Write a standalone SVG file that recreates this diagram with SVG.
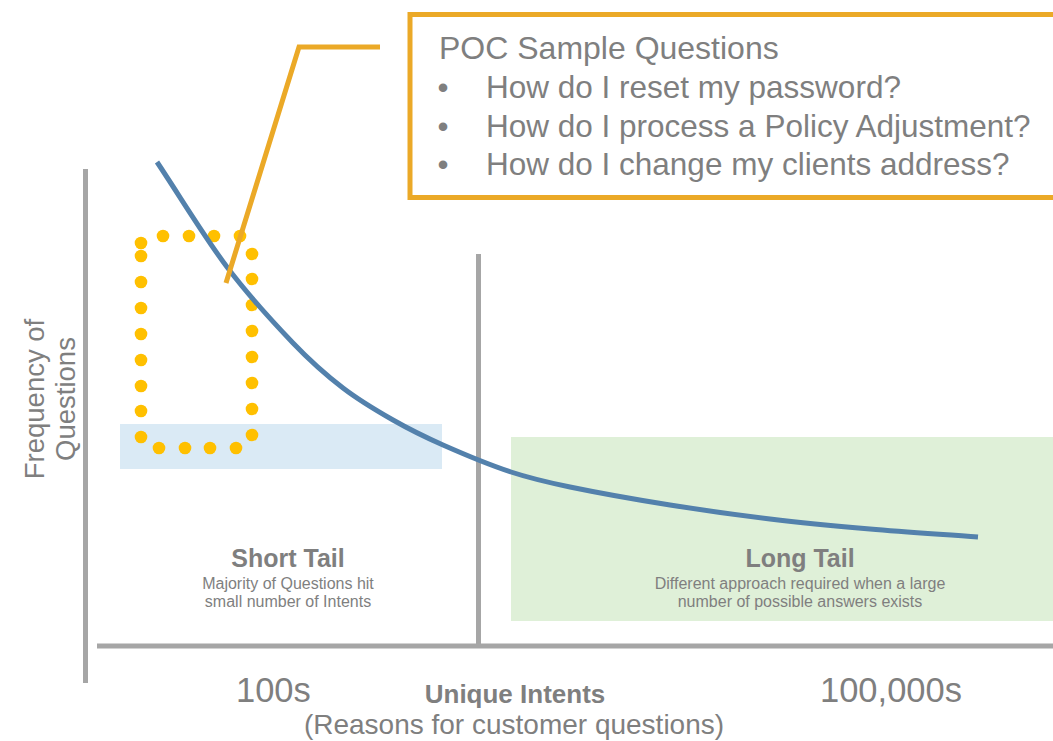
<svg xmlns="http://www.w3.org/2000/svg" width="1053" height="741" viewBox="0 0 1053 741">
  <style>
    text { font-family: "Liberation Sans", Arial, sans-serif; fill: #7F7F7F; }
    .axis { stroke: #A6A6A6; stroke-width: 5; fill: none; }
    .dot { fill: #FFC000; }
    .orange { stroke: #EBA927; stroke-width: 5; fill: none; }
    .head { font-weight: bold; font-size: 25px; text-anchor: middle; }
    .note { font-size: 16px; text-anchor: middle; }
    .tick { font-size: 34.5px; }
    .q { font-size: 31.5px; }
  </style>
  <defs>
    <circle id="d" r="6.3" class="dot"/>
  </defs>
  <rect width="1053" height="741" fill="#FFFFFF"/>

  <!-- shaded regions -->
  <g id="short-band">
    <rect x="120" y="424" width="322" height="45" fill="#DAEAF5"/>
  </g>
  <g id="long-band">
    <rect x="511" y="437" width="542" height="184" fill="#DFF0D8"/>
  </g>

  <!-- axes and divider -->
  <g id="axes">
    <line class="axis" x1="85.5" y1="169" x2="85.5" y2="683"/>
    <line class="axis" x1="97" y1="646" x2="1053" y2="646"/>
    <line class="axis" x1="478.5" y1="254" x2="478.5" y2="646"/>
  </g>

  <!-- dotted selection around the head of the curve -->
  <g id="selection">
    <use href="#d" x="141" y="243"/><use href="#d" x="141" y="256"/>
    <use href="#d" x="141" y="282"/><use href="#d" x="141" y="308"/>
    <use href="#d" x="141" y="334"/><use href="#d" x="141" y="360"/>
    <use href="#d" x="141" y="386"/><use href="#d" x="141" y="411"/>
    <use href="#d" x="141" y="437"/>
    <use href="#d" x="163" y="236"/><use href="#d" x="189" y="236"/>
    <use href="#d" x="214" y="236"/><use href="#d" x="240" y="236"/>
    <use href="#d" x="252" y="254"/><use href="#d" x="252" y="279"/>
    <use href="#d" x="252" y="305"/><use href="#d" x="252" y="331"/>
    <use href="#d" x="252" y="357"/><use href="#d" x="252" y="383"/>
    <use href="#d" x="252" y="409"/><use href="#d" x="252" y="435"/>
    <use href="#d" x="159" y="448"/><use href="#d" x="185" y="448"/>
    <use href="#d" x="210" y="448"/><use href="#d" x="236" y="448"/>
  </g>

  <!-- frequency curve -->
  <g id="curve">
    <path d="M157,162 C180.3,197 204.3,236.8 227,267 C249.7,297.2 273.7,322.8 293,343 C312.3,363.2 326.3,375.2 343,388 C359.7,400.8 376.3,410.5 393,420 C409.7,429.5 423.3,436.3 443,445 C462.7,453.7 489.8,465 511,472 C532.2,479 543.5,481.5 570,487 C596.5,492.5 636.7,499.7 670,505 C703.3,510.3 736.7,515 770,519 C803.3,523 835.3,526 870,529 C904.7,532 942,534.3 978,537" fill="none" stroke="#5381AC" stroke-width="5"/>
  </g>

  <!-- callout leader -->
  <g id="connectors">
    <polyline class="orange" points="380,47 299,47 226,283"/>
  </g>

  <!-- callout box -->
  <g id="callout">
    <rect class="orange" x="410" y="14.5" width="700" height="183"/>
    <text x="439" y="59" font-size="32">POC Sample Questions</text>
    <text class="q" x="443" y="98" text-anchor="middle">•</text>
    <text class="q" x="486" y="98">How do I reset my password?</text>
    <text class="q" x="443" y="137" text-anchor="middle">•</text>
    <text class="q" x="486" y="137">How do I process a Policy Adjustment?</text>
    <text class="q" x="443" y="175" text-anchor="middle">•</text>
    <text class="q" x="486" y="175">How do I change my clients address?</text>
  </g>

  <!-- region labels -->
  <g id="short-tail">
    <text class="head" x="288" y="567">Short Tail</text>
    <text class="note" x="288" y="589">Majority of Questions hit</text>
    <text class="note" x="288" y="607">small number of Intents</text>
  </g>
  <g id="long-tail">
    <text class="head" x="800" y="567">Long Tail</text>
    <text class="note" x="800" y="589">Different approach required when a large</text>
    <text class="note" x="800" y="607">number of possible answers exists</text>
  </g>

  <!-- axis labels -->
  <g id="y-label">
    <text transform="translate(44,399) rotate(-90)" font-size="27.5" text-anchor="middle">Frequency of</text>
    <text transform="translate(75,399) rotate(-90)" font-size="27.5" text-anchor="middle">Questions</text>
  </g>
  <g id="x-label">
    <text class="tick" x="236" y="702">100s</text>
    <text class="tick" x="820" y="702">100,000s</text>
    <text x="515" y="703" font-size="26" font-weight="bold" text-anchor="middle">Unique Intents</text>
    <text x="514" y="734" font-size="28" text-anchor="middle">(Reasons for customer questions)</text>
  </g>
</svg>
